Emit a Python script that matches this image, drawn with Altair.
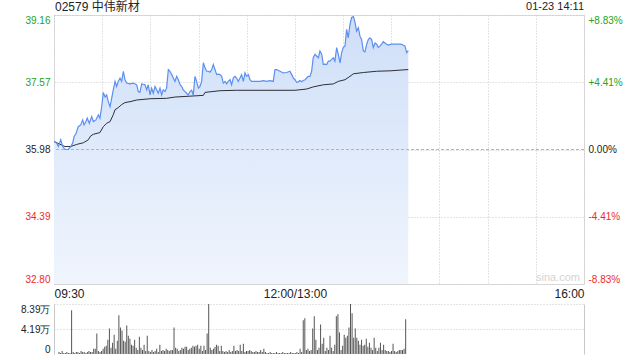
import altair as alt
import pandas as pd

# ---------------- data ----------------
NAME = "02579 中伟新材"
STAMP = "01-23 14:11"
PREV_CLOSE = 35.98

price_ticks = [32.80, 34.39, 35.98, 37.57, 39.16]
pct_labels = ["-8.83%", "-4.41%", "0.00%", "+4.41%", "+8.83%"]

vol_ticks = [0, 4.19, 8.39]
vol_labels = ["0", "4.19万", "8.39万"]

time_grid = [0, 30, 60, 90, 120, 150, 180, 210, 240, 270, 300, 330]
time_label_pos = [0, 150, 330]
time_label_txt = ["09:30", "12:00/13:00", "16:00"]

# minutes since 09:30 (trading minutes, lunch break removed)
price_min = [
    0.0, 1.7, 2.7, 4.2, 5.4, 6.9, 8.9, 10.4, 11.6, 12.5,
    13.7, 15.1, 16.6, 17.9, 18.7, 19.9, 20.7, 22.0, 23.5, 24.5,
    26.1, 27.6, 28.6, 29.7, 30.7, 31.8, 32.8, 33.8, 34.9, 35.9,
    36.9, 38.0, 39.0, 40.0, 41.1, 42.1, 43.2, 44.2, 45.2, 47.3,
    49.4, 51.5, 52.5, 53.5, 54.6, 56.7, 57.7, 58.7, 59.8, 60.8,
    61.8, 62.9, 63.9, 64.9, 66.0, 67.0, 68.0, 69.1, 70.1, 71.2,
    72.2, 73.3, 74.3,
    75.3, 76.4, 77.4, 78.5, 79.5, 80.5, 81.6, 82.6, 83.6, 84.7,
    85.7, 86.7, 87.8, 88.8, 89.9, 90.9, 91.9, 93.0, 94.0, 95.1,
    96.1, 97.1, 98.2, 99.2, 100.2, 101.3, 102.3, 103.4, 104.4, 105.4,
    106.5, 107.5, 108.5, 109.6, 110.6, 111.6, 112.7, 113.7, 114.7, 115.8,
    116.8, 117.9, 118.9, 119.9, 121.0, 122.0, 123.0,
    124.1, 126.2, 128.3, 130.3, 132.4, 134.5, 136.5,
    137.6, 138.6, 140.7, 142.8, 144.9, 146.9, 148.0, 149.0, 150.0,
    151.1, 152.1, 153.1, 154.2, 155.2, 156.3, 157.3, 158.3, 159.4, 160.4,
    161.4, 162.5, 163.5, 164.6, 165.6, 166.7, 167.7, 168.7, 169.8, 170.8,
    171.8, 172.9, 173.9, 174.9, 176.0, 177.0, 178.1, 179.1, 180.1, 181.2,
    182.2, 183.2, 184.3, 185.3, 186.4, 187.4, 188.4, 189.5, 190.5, 191.5,
    192.6, 193.6, 194.7, 195.7, 196.7, 197.8, 198.8, 199.9, 200.9, 201.9,
    203.0, 204.0, 205.0, 206.1, 207.1, 208.1,
    210.0, 212.0, 214.0, 216.0, 218.5, 219.6, 220.6,
]
price_val = [
    36.17, 36.13, 36.05, 36.21, 36.05, 35.98, 35.98, 36.05, 36.13, 36.28,
    36.36, 36.52, 36.56, 36.68, 36.56, 36.64, 36.72, 36.60, 36.76, 36.64,
    36.68, 36.80, 36.72, 36.99, 37.33, 37.22, 37.27, 37.11, 36.99, 37.19,
    37.39, 37.59, 37.47, 37.59, 37.67, 37.59, 37.83, 37.63, 37.55, 37.53,
    37.55, 37.51, 37.35, 37.33, 37.53, 37.51, 37.39, 37.51, 37.27, 37.43,
    37.31, 37.47, 37.39, 37.31, 37.43, 37.27, 37.39, 37.35, 37.43, 37.87,
    37.83, 37.75, 37.67,
    37.59, 37.71, 37.63, 37.51, 37.47, 37.39, 37.35, 37.31, 37.27, 37.35,
    37.38, 37.27, 37.71, 37.59, 37.43, 37.47, 37.59, 38.03, 37.91, 37.83,
    37.83, 37.81, 37.87, 37.99, 37.87, 37.75, 37.76, 37.75, 37.71, 37.55,
    37.59, 37.53, 37.59, 37.63, 37.51, 37.67, 37.71, 37.67, 37.59, 37.67,
    37.75, 37.59, 37.79, 37.71, 37.75, 37.63, 37.59,
    37.59, 37.59, 37.59, 37.61, 37.59, 37.61, 37.59,
    37.87, 37.87, 37.83, 37.79, 37.80, 37.83, 37.75, 37.67, 37.63,
    37.57, 37.58, 37.61, 37.58, 37.61, 37.63, 37.67, 37.71, 37.71, 37.83,
    38.15, 38.23, 38.19, 38.15, 38.31, 38.23, 37.99, 38.00, 37.99, 38.07,
    38.07, 38.11, 38.15, 38.07, 38.39, 38.23, 38.03, 38.27, 38.39, 38.43,
    38.82, 38.62, 38.94, 39.10, 39.12, 38.99, 38.78, 38.86, 38.66, 38.58,
    38.31, 38.29, 38.47, 38.58, 38.62, 38.58, 38.39, 38.50, 38.47, 38.39,
    38.43, 38.47, 38.53, 38.50, 38.47, 38.45,
    38.47, 38.47, 38.47, 38.47, 38.43, 38.27, 38.32,
]

avg_min = [0, 6.8, 10.4, 14.1, 18.3, 21.4, 22.8, 24.5, 28.6, 30.7,
           32.8, 34.9, 36.9, 38.0, 40.0, 42.1, 44.2, 47.3, 51.5, 59.8,
           70.1, 75.3, 93.0, 94.0, 103.4, 113.7, 150.0, 157.3, 161.4, 167.7,
           173.9, 177.0, 181.2, 184.3, 186.4, 192.6, 200.9, 209.2, 220.6]
avg_val = [36.17, 36.05, 36.05, 36.10, 36.14, 36.21, 36.30, 36.34, 36.38, 36.52,
           36.60, 36.64, 36.80, 36.92, 36.97, 37.04, 37.09, 37.11, 37.15, 37.18,
           37.19, 37.22, 37.26, 37.33, 37.37, 37.38, 37.38, 37.41, 37.46, 37.51,
           37.53, 37.59, 37.63, 37.71, 37.77, 37.80, 37.83, 37.84, 37.87]

# volume per minute (万股), minute 0 .. 220
volume = [
    0.34, 0.17, 0.51, 0.17, 0.17, 0.34, 0.17, 0.17, 7.36,
    0.34, 0.17, 0.34, 0.34, 0.17, 0.51, 0.34, 0.34, 0.17, 0.34, 0.51, 0.34, 0.34,
    0.86, 0.86, 3.42, 0.51, 0.34, 0.51, 0.86, 1.20, 1.37, 2.40, 4.28,
    1.03, 1.88, 3.25, 0.86, 2.23, 6.51, 4.45, 3.94, 2.23, 2.05, 4.79, 3.08,
    2.57, 1.54, 1.37, 2.40, 1.03, 0.68, 2.91, 1.03, 0.68, 1.54, 0.51, 3.08,
    0.51, 0.34, 0.68, 0.34, 0.51, 0.86, 0.34, 1.54,
    0.51, 0.68, 0.51, 0.86, 0.68, 0.51, 0.68,
    0.68, 4.45, 1.03, 0.86, 0.51, 0.68,
    1.03, 0.86, 1.20, 1.20, 0.68, 0.86, 1.03, 1.37, 1.20, 1.37, 1.54,
    0.86, 1.37, 0.51, 1.37, 0.68, 3.42, 8.39, 1.03, 0.68, 0.86, 1.20,
    1.54, 1.37, 0.51, 1.37, 0.51, 0.34, 0.51, 0.34, 0.68, 0.34, 0.51,
    1.37, 0.51, 0.68, 0.51, 1.54, 0.51, 1.71, 0.34, 0.51, 0.51, 0.68,
    0.51, 0.34, 0.34, 0.51, 0.34, 0.34, 0.68, 0.34, 0.86, 0.34,
    0.17, 0.17, 0.34, 0.17, 0.17, 0.17, 0.34, 0.17, 0.17, 0.17, 0.34,
    0.17, 0.17, 0.17, 0.17, 0.34, 0.17, 0.17, 0.17, 0.34, 0.17,
    0.86, 0.34, 5.65, 5.99, 0.68, 0.86, 0.51, 0.68, 4.28, 6.33,
    2.40, 0.68, 1.03, 4.96, 1.71, 2.74, 0.51, 1.03, 0.68, 3.08,
    1.03, 0.51, 1.54, 6.33, 6.68, 3.60, 0.68, 1.37, 3.25, 2.74,
    3.08, 4.45, 8.39, 6.85, 2.74, 4.28, 2.74, 2.23, 1.54, 2.40,
    1.37, 1.54, 2.57, 1.20, 1.88, 1.03, 0.68, 2.74, 1.03, 0.51,
    1.03, 1.88, 0.68, 1.54, 0.68, 0.51, 0.51, 0.34, 0.51, 1.71,
    0.51, 0.34, 0.51, 0.68, 0.68, 0.68, 0.86, 5.82,
]
assert len(price_min) == len(price_val)
assert len(avg_min) == len(avg_val)

price_df = pd.DataFrame({"m": price_min, "p": price_val})
avg_df = pd.DataFrame({"m": avg_min, "p": avg_val})
vol_df = pd.DataFrame({"m": list(range(len(volume))), "v": volume})

# ---------------- styling ----------------
FONT = "Liberation Sans, Arial, Noto Sans CJK SC"
GREEN = "#22a322"
RED = "#ee2a2a"
DARK = "#222222"
BLUE = "#5b8ff0"
GRID = "#c9c9c9"
W, H, VH = 530, 269, 50


def expr_map(vals, labels):
    parts = [f"abs(datum.value - {v}) < 0.005 ? '{t}'" for v, t in zip(vals, labels)]
    return " : ".join(parts) + " : ''"


label_color = {
    "condition": [
        {"test": f"datum.value > {PREV_CLOSE + 0.01}", "value": GREEN},
        {"test": f"datum.value < {PREV_CLOSE - 0.01}", "value": RED},
    ],
    "value": DARK,
}

xscale = alt.Scale(domain=[0, 330], nice=False, zero=False)
yscale = alt.Scale(domain=[price_ticks[0], price_ticks[-1]], nice=False, zero=False)

x_axis = alt.Axis(
    values=time_grid, labelExpr=expr_map(time_label_pos, time_label_txt),
    labelFlush=True, labelOverlap=False, grid=True, gridDash=[1, 2], gridColor=GRID,
    ticks=False, domain=False, labelPadding=4, title=None, labelColor=DARK,
    labelFontSize=12,
)
y_left = alt.Axis(
    values=price_ticks, format=".2f", labelFlush=True, grid=True, gridDash=[1, 2],
    gridColor=GRID, ticks=False, domain=False, labelPadding=4, title=None,
    labelColor=label_color,
)
y_right = alt.Axis(
    orient="right", values=price_ticks, labelExpr=expr_map(price_ticks, pct_labels),
    labelFlush=True, grid=False, ticks=False, domain=False, labelPadding=4,
    title=None, labelColor=label_color,
)

gradient = alt.Gradient(
    gradient="linear",
    stops=[alt.GradientStop(color="#f0f5fd", offset=0),
           alt.GradientStop(color="#cfdff8", offset=1)],
    x1=1, x2=1, y1=1, y2=0,
)

xenc = alt.X("m:Q", scale=xscale, axis=x_axis)

area = alt.Chart(price_df).mark_area(color=gradient).encode(
    x=xenc,
    y=alt.Y("p:Q", scale=yscale, axis=y_left),
    y2=alt.datum(price_ticks[0]),
)
line = alt.Chart(price_df).mark_line(color=BLUE, strokeWidth=1.2).encode(
    x=xenc,
    y=alt.Y("p:Q", scale=yscale, axis=None),
)
avg = alt.Chart(avg_df).mark_line(color="#2b2f38", strokeWidth=1).encode(
    x=xenc,
    y=alt.Y("p:Q", scale=yscale, axis=y_right),
)
zero_rule = alt.Chart(pd.DataFrame({"p": [PREV_CLOSE]})).mark_rule(
    color="#b5b5b5", strokeDash=[3, 2], strokeWidth=1
).encode(y=alt.Y("p:Q", scale=yscale, axis=None))

name_txt = alt.Chart(pd.DataFrame({"t": [NAME]})).mark_text(
    align="left", baseline="middle", fontSize=12, color=DARK, font=FONT
).encode(x=alt.value(1), y=alt.value(-8), text="t:N")
stamp_txt = alt.Chart(pd.DataFrame({"t": [STAMP]})).mark_text(
    align="right", baseline="middle", fontSize=11, color=DARK, font=FONT
).encode(x=alt.value(W), y=alt.value(-8), text="t:N")
mark_txt = alt.Chart(pd.DataFrame({"t": ["sina.com"]})).mark_text(
    align="right", baseline="middle", fontSize=11, color="#d4d4d4", font=FONT
).encode(x=alt.value(W - 4), y=alt.value(H - 6), text="t:N")

price_chart = alt.layer(
    area, zero_rule, avg, line, name_txt, stamp_txt, mark_txt
).resolve_axis(y="independent").properties(width=W, height=H)

vol_left = alt.Axis(
    values=vol_ticks, labelExpr=expr_map(vol_ticks, vol_labels), labelFlush=True,
    grid=True, gridDash=[1, 2],
    gridColor={"condition": {"test": "datum.value == 0", "value": "transparent"}, "value": GRID},
    ticks=False, domain=True, domainColor=GRID, labelPadding=4, title=None, labelColor=DARK,
)
vol_right = alt.Axis(
    orient="right", values=vol_ticks, labels=False, grid=False, ticks=False,
    domain=True, domainColor=GRID, title=None,
)
vscale = alt.Scale(domain=[0, vol_ticks[-1]], nice=False, zero=True)

bars = alt.Chart(vol_df).mark_bar(color="#555555", width=1).encode(
    x=alt.X("m:Q", scale=xscale, axis=None),
    y=alt.Y("v:Q", scale=vscale, axis=vol_left),
)
bars_r = alt.Chart(vol_df).mark_bar(opacity=0, width=1).encode(
    x=alt.X("m:Q", scale=xscale, axis=None),
    y=alt.Y("v:Q", scale=vscale, axis=vol_right),
)
vol_chart = alt.layer(bars, bars_r).resolve_axis(y="independent").properties(
    width=W, height=VH, view=alt.ViewBackground(stroke=None)
)

chart = alt.vconcat(price_chart, vol_chart, spacing=4).properties(
    padding={"left": 20, "right": 12, "top": 0, "bottom": 5}
).configure_view(stroke=GRID).configure_axis(
    labelFont=FONT, labelFontSize=11
).configure(background="white")

chart.save("out.html", embed_options={"renderer": "svg", "actions": False})
